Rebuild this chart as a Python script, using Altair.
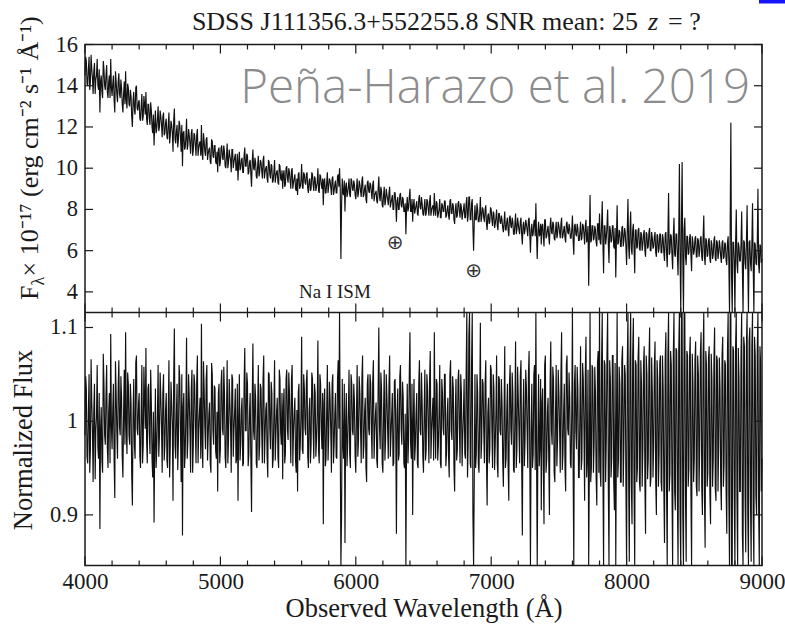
import altair as alt
import pandas as pd

# Spectrum on a 5 Angstrom grid: the main samples fall on 4000, 4010, ... 9000
# and the in-between samples on 4005, 4015, ... 8995
wave_start = 4000
wave_step = 10

# Observed flux density, units of 1e-17 erg cm^-2 s^-1 A^-1 (main samples)
flux = [
    14.5, 15.2, 14.0, 15.4, 14.2, 14.8, 13.6, 15.1, 14.3, 15.3,
    13.8, 12.7, 14.5, 13.4, 14.8, 13.8, 15.0, 13.4, 14.5, 15.3,
    13.5, 14.5, 12.7, 14.2, 13.2, 14.6, 13.4, 13.9, 12.7, 14.2,
    14.7, 12.9, 13.9, 13.0, 13.5, 12.0, 13.7, 12.6, 14.0, 12.8,
    13.3, 12.3, 13.6, 12.5, 13.1, 13.7, 12.1, 13.1, 12.1, 12.8,
    11.7, 11.1, 12.8, 11.9, 13.0, 12.0, 12.5, 11.5, 12.7, 11.7,
    12.4, 11.4, 12.7, 11.6, 12.1, 10.8, 12.9, 11.2, 12.1, 11.4,
    12.1, 10.8, 10.1, 11.8, 11.0, 12.4, 11.1, 11.6, 10.7, 11.9,
    10.9, 11.6, 10.6, 11.9, 11.0, 11.3, 12.1, 10.4, 11.3, 10.6,
    11.5, 10.7, 11.0, 10.2, 11.3, 10.5, 11.1, 10.2, 9.8, 11.0,
    10.3, 11.1, 10.4, 10.8, 10.0, 11.2, 10.3, 10.6, 9.8, 10.9,
    10.3, 10.7, 9.9, 9.4, 10.8, 10.0, 10.5, 9.8, 11.0, 10.1,
    10.6, 9.8, 10.4, 9.1, 10.9, 9.9, 10.3, 9.5, 10.6, 9.8,
    10.3, 9.5, 10.6, 9.8, 10.1, 9.3, 10.3, 9.5, 10.1, 9.4,
    10.4, 9.6, 9.9, 9.2, 10.1, 9.4, 9.0, 9.9, 9.2, 10.1,
    9.3, 9.8, 9.0, 10.0, 9.3, 9.7, 8.9, 8.7, 9.8, 9.1,
    10.2, 9.0, 9.7, 9.2, 9.8, 8.8, 9.5, 9.0, 9.7, 8.9,
    9.5, 9.1, 10.0, 8.8, 9.6, 9.0, 8.2, 9.5, 8.8, 9.8,
    9.1, 9.4, 8.7, 9.6, 8.9, 9.4, 8.8, 9.7, 10.0, 5.6,
    9.5, 8.7, 7.9, 9.3, 8.8, 9.5, 8.6, 9.4, 8.9, 9.2,
    8.5, 9.5, 8.8, 9.2, 8.6, 9.6, 8.7, 9.2, 8.3, 9.4,
    8.8, 9.2, 8.5, 9.4, 8.7, 8.9, 8.3, 9.6, 8.4, 8.9,
    8.1, 9.1, 8.4, 8.7, 8.2, 9.1, 8.3, 8.7, 8.0, 8.8,
    7.4, 8.6, 8.0, 8.8, 8.1, 8.5, 7.9, 6.8, 8.6, 8.1,
    9.0, 7.9, 7.4, 8.5, 8.0, 8.4, 7.7, 8.7, 8.0, 8.3,
    7.7, 8.5, 7.8, 8.4, 7.7, 8.7, 8.0, 8.2, 8.8, 7.7,
    8.3, 7.8, 8.5, 7.6, 8.2, 7.9, 8.4, 7.7, 8.2, 7.5,
    8.5, 7.8, 8.2, 7.3, 8.3, 7.7, 8.4, 7.6, 8.1, 7.8,
    8.3, 7.6, 8.6, 7.7, 8.6, 7.5, 8.5, 6.0, 8.2, 7.5,
    8.0, 7.4, 8.6, 7.6, 8.0, 7.4, 8.2, 7.0, 7.8, 7.4,
    8.0, 7.2, 7.8, 7.3, 8.0, 7.0, 7.8, 7.3, 7.5, 6.9,
    7.9, 7.0, 7.6, 6.7, 7.7, 7.1, 7.4, 6.8, 7.8, 7.0,
    7.3, 6.8, 7.6, 6.3, 7.4, 7.0, 7.3, 6.7, 7.6, 5.9,
    7.3, 6.8, 7.5, 8.3, 5.6, 7.4, 6.8, 6.3, 7.3, 6.2,
    7.5, 6.7, 7.2, 6.3, 7.6, 6.8, 7.3, 6.5, 7.4, 6.8,
    7.2, 6.6, 7.6, 6.7, 7.2, 6.4, 7.4, 6.8, 7.1, 6.6,
    7.7, 5.8, 7.3, 6.7, 7.1, 6.5, 7.4, 6.6, 7.2, 6.3,
    7.5, 6.6, 4.3, 8.7, 6.5, 7.2, 6.6, 7.0, 6.2, 7.3,
    7.8, 6.3, 8.4, 4.9, 7.2, 6.6, 8.0, 5.4, 7.0, 6.5,
    7.2, 6.1, 4.7, 8.2, 6.4, 6.9, 6.2, 7.2, 6.5, 6.9,
    5.3, 8.5, 5.6, 7.9, 5.8, 7.3, 4.9, 7.0, 6.2, 7.1,
    6.0, 6.8, 6.3, 7.0, 5.7, 6.8, 6.2, 7.1, 6.0, 6.6,
    6.2, 6.9, 5.7, 6.7, 6.1, 6.8, 5.9, 6.6, 5.5, 6.9,
    5.2, 8.8, 5.9, 6.7, 5.1, 7.6, 5.7, 6.8, 4.8, 10.2,
    2.5, 10.3, 2.5, 7.6, 5.3, 6.7, 5.9, 6.8, 5.0, 6.4,
    6.0, 6.7, 5.7, 6.5, 6.0, 6.7, 5.5, 7.7, 5.3, 6.5,
    5.8, 6.6, 5.4, 6.3, 5.8, 6.7, 5.5, 6.4, 5.9, 6.2,
    5.4, 6.5, 5.7, 6.3, 5.3, 6.7, 2.5, 12.2, 2.5, 6.4,
    2.8, 8.0, 4.9, 6.2, 5.5, 7.9, 2.5, 6.4, 5.1, 8.2,
    2.5, 6.5, 5.0, 8.3, 2.6, 6.3, 5.3, 9.0, 4.9, 6.2,
    5.6,
]

# Observed flux density at the in-between samples
flux_mid = [
    15.4, 14.1, 14.8, 13.8, 15.5, 14.4, 14.7, 13.6, 14.5, 14.0,
    14.8, 14.2, 13.7, 15.2, 14.0, 14.5, 13.7, 14.2, 13.4, 13.9,
    14.1, 13.3, 14.7, 13.6, 14.2, 13.6, 14.3, 13.1, 13.6, 13.1,
    13.3, 14.1, 13.1, 13.8, 12.5, 13.3, 12.8, 13.9, 12.9, 13.2,
    12.4, 13.0, 12.3, 13.5, 12.6, 12.4, 13.1, 12.4, 13.2, 12.0,
    12.6, 12.1, 11.7, 12.4, 11.8, 12.8, 12.1, 12.5, 11.6, 12.2,
    11.5, 12.1, 11.2, 12.3, 11.7, 12.3, 11.4, 11.8, 11.0, 12.3,
    11.5, 12.1, 11.7, 10.9, 11.5, 10.9, 11.9, 11.2, 11.7, 10.6,
    11.7, 11.1, 11.6, 10.6, 11.2, 10.6, 10.7, 11.7, 10.8, 11.4,
    10.4, 10.9, 10.3, 11.4, 10.6, 11.1, 10.3, 10.8, 10.9, 10.1,
    11.0, 10.5, 11.1, 10.1, 10.6, 10.0, 10.9, 10.4, 10.9, 10.0,
    10.5, 9.9, 10.7, 10.3, 9.9, 10.4, 9.8, 10.6, 10.1, 10.7,
    9.7, 10.3, 9.7, 10.3, 10.0, 10.5, 9.6, 10.1, 9.6, 10.4,
    9.9, 10.4, 9.5, 10.0, 9.5, 10.4, 9.7, 10.2, 9.3, 9.8,
    9.3, 9.8, 9.3, 10.2, 9.5, 9.9, 9.7, 9.1, 10.0, 9.5,
    10.0, 9.4, 9.9, 9.0, 9.5, 9.0, 9.5, 9.7, 9.0, 9.4,
    9.1, 9.8, 9.3, 9.7, 9.0, 9.4, 8.9, 9.8, 9.2, 9.6,
    8.9, 9.3, 8.9, 9.7, 9.2, 9.5, 9.4, 8.8, 9.3, 8.8,
    9.5, 9.1, 9.5, 8.7, 9.2, 8.8, 9.6, 9.1, 9.0, 8.2,
    8.8, 9.4, 9.1, 8.6, 9.1, 8.7, 9.5, 9.0, 9.4, 8.7,
    9.0, 8.6, 9.4, 8.9, 9.4, 8.6, 9.0, 8.5, 9.3, 8.9,
    9.3, 8.8, 9.2, 8.4, 8.8, 8.4, 9.0, 8.6, 9.1, 8.2,
    8.7, 8.2, 9.0, 8.5, 8.8, 8.1, 8.5, 8.0, 8.8, 8.3,
    8.4, 8.0, 8.7, 8.2, 8.6, 7.9, 8.3, 8.1, 7.9, 8.6,
    7.9, 8.5, 8.2, 7.8, 8.2, 7.8, 8.5, 8.1, 8.6, 7.8,
    8.1, 7.7, 8.5, 8.0, 8.4, 7.7, 8.1, 7.7, 8.0, 8.4,
    7.6, 8.0, 7.6, 8.3, 7.9, 8.4, 7.6, 8.0, 7.7, 8.4,
    7.8, 8.3, 7.5, 8.0, 7.6, 8.3, 7.9, 8.3, 7.5, 8.0,
    7.6, 8.3, 7.4, 8.6, 7.5, 8.3, 7.1, 7.4, 7.5, 8.3,
    7.4, 7.8, 7.4, 8.1, 7.6, 8.0, 7.3, 7.7, 7.3, 8.1,
    7.5, 7.9, 7.1, 7.6, 7.2, 7.8, 7.4, 7.7, 7.1, 7.4,
    7.0, 7.4, 7.0, 7.6, 7.2, 7.6, 6.8, 7.3, 6.8, 7.6,
    7.0, 7.4, 6.8, 7.2, 6.8, 7.5, 7.0, 7.5, 6.8, 7.0,
    6.7, 7.4, 6.7, 6.7, 6.9, 6.7, 7.3, 7.2, 6.7, 7.5,
    6.6, 7.0, 6.7, 7.2, 6.9, 7.4, 6.6, 7.0, 6.6, 7.4,
    6.9, 7.3, 6.6, 7.0, 6.6, 7.3, 6.9, 7.3, 6.6, 7.0,
    6.5, 7.2, 6.8, 7.3, 6.5, 6.9, 6.5, 7.3, 6.8, 7.2,
    6.4, 7.2, 6.5, 6.4, 7.2, 6.5, 7.2, 6.4, 7.3, 6.5,
    6.4, 7.2, 6.4, 7.2, 6.3, 7.2, 6.3, 7.2, 6.4, 7.2,
    6.2, 7.1, 6.6, 6.3, 7.0, 6.2, 7.1, 6.2, 7.1, 6.2,
    7.0, 6.2, 7.0, 6.1, 7.0, 6.1, 7.0, 6.1, 7.0, 6.1,
    6.9, 6.0, 6.8, 6.0, 6.9, 6.1, 6.9, 6.0, 6.9, 6.1,
    6.7, 5.9, 6.8, 5.9, 6.8, 5.9, 6.8, 5.9, 6.8, 5.9,
    6.7, 5.8, 6.8, 5.8, 6.7, 5.8, 6.8, 5.8, 6.8, 5.7,
    7.2, 5.6, 7.0, 5.7, 6.7, 5.8, 6.6, 5.8, 6.7, 5.8,
    6.6, 5.7, 6.6, 5.7, 6.6, 5.7, 6.6, 5.7, 6.6, 5.7,
    6.5, 5.6, 6.5, 5.6, 6.5, 5.6, 6.5, 5.6, 6.5, 5.7,
    6.4, 5.6, 6.4, 5.5, 6.4, 5.5, 7.2, 4.8, 6.4, 5.5,
    6.4, 5.4, 6.4, 5.5, 6.3, 5.2, 6.5, 5.4, 6.4, 5.3,
    6.4, 5.4, 6.3, 5.3, 6.4, 5.4, 6.3, 5.3, 6.3, 5.4,
]

# Flux divided by the fitted continuum (main samples)
norm_flux = [
    0.985, 1.035, 0.955, 1.050, 0.970, 1.020, 0.935, 1.040, 0.990, 1.060,
    0.960, 0.885, 1.015, 0.945, 1.040, 0.975, 1.060, 0.950, 1.030, 1.093,
    0.970, 1.040, 0.918, 1.030, 0.960, 1.065, 0.985, 1.025, 0.940, 1.055,
    1.095, 0.965, 1.040, 0.975, 1.020, 0.910, 1.045, 0.960, 1.070, 0.985,
    1.030, 0.950, 1.060, 0.975, 1.025, 1.078, 0.955, 1.040, 0.965, 1.020,
    0.940, 0.892, 1.035, 0.970, 1.060, 0.985, 1.025, 0.945, 1.050, 0.975,
    1.030, 0.950, 1.065, 0.975, 1.020, 0.915, 1.099, 0.960, 1.040, 0.980,
    1.045, 0.935, 0.878, 1.030, 0.965, 1.089, 0.980, 1.025, 0.945, 1.055,
    0.975, 1.040, 0.955, 1.070, 0.990, 1.025, 1.104, 0.950, 1.035, 0.970,
    1.060, 0.985, 1.020, 0.945, 1.050, 0.975, 1.035, 0.960, 0.925, 1.040,
    0.970, 1.055, 0.985, 1.030, 0.950, 1.065, 0.980, 1.020, 0.945, 1.045,
    0.990, 1.035, 0.960, 0.915, 1.050, 0.975, 1.025, 0.955, 1.078, 0.990,
    1.040, 0.965, 1.030, 0.903, 1.083, 0.980, 1.025, 0.950, 1.060, 0.975,
    1.035, 0.955, 1.070, 0.985, 1.020, 0.940, 1.050, 0.970, 1.030, 0.960,
    1.065, 0.985, 1.025, 0.950, 1.045, 0.975, 0.938, 1.035, 0.965, 1.055,
    0.980, 1.030, 0.955, 1.060, 0.990, 1.025, 0.945, 0.925, 1.040, 0.975,
    1.090, 0.965, 1.035, 0.985, 1.055, 0.950, 1.025, 0.975, 1.045, 0.960,
    1.030, 0.980, 1.086, 0.955, 1.040, 0.970, 0.890, 1.035, 0.960, 1.060,
    0.985, 1.025, 0.945, 1.050, 0.975, 1.030, 0.960, 1.065, 1.125, 0.620,
    1.045, 0.960, 0.870, 1.030, 0.975, 1.055, 0.950, 1.040, 0.985, 1.020,
    0.945, 1.060, 0.980, 1.030, 0.955, 1.070, 0.975, 1.025, 0.935, 1.050,
    0.985, 1.040, 0.960, 1.065, 0.990, 1.020, 0.950, 1.100, 0.970, 1.035,
    0.945, 1.055, 0.980, 1.025, 0.960, 1.070, 0.985, 1.030, 0.955, 1.045,
    0.880, 1.035, 0.965, 1.060, 0.975, 1.025, 0.950, 0.820, 1.040, 0.980,
    1.095, 0.960, 0.900, 1.045, 0.975, 1.030, 0.950, 1.065, 0.985, 1.020,
    0.945, 1.055, 0.970, 1.035, 0.955, 1.075, 0.990, 1.025, 1.095, 0.960,
    1.040, 0.975, 1.060, 0.950, 1.030, 0.985, 1.050, 0.965, 1.025, 0.940,
    1.065, 0.980, 1.035, 0.925, 1.045, 0.970, 1.055, 0.955, 1.030, 0.985,
    1.045, 0.960, 1.118, 0.975, 1.125, 0.950, 1.122, 0.740, 1.050, 0.965,
    1.030, 0.945, 1.105, 0.980, 1.040, 0.955, 1.065, 0.910, 1.025, 0.970,
    1.055, 0.950, 1.035, 0.975, 1.070, 0.940, 1.045, 0.985, 1.020, 0.930,
    1.080, 0.960, 1.040, 0.915, 1.060, 0.975, 1.030, 0.945, 1.085, 0.970,
    1.025, 0.955, 1.065, 0.878, 1.045, 0.980, 1.035, 0.950, 1.075, 0.830,
    1.040, 0.965, 1.060, 1.125, 0.790, 1.050, 0.975, 0.905, 1.035, 0.890,
    1.070, 0.960, 1.025, 0.900, 1.085, 0.975, 1.045, 0.935, 1.060, 0.980,
    1.030, 0.945, 1.095, 0.965, 1.040, 0.925, 1.070, 0.985, 1.025, 0.950,
    1.120, 0.835, 1.060, 0.970, 1.035, 0.940, 1.080, 0.960, 1.045, 0.915,
    1.090, 0.960, 0.630, 1.270, 0.950, 1.055, 0.975, 1.030, 0.910, 1.075,
    1.150, 0.930, 1.240, 0.720, 1.060, 0.980, 1.180, 0.800, 1.045, 0.960,
    1.070, 0.905, 0.700, 1.230, 0.960, 1.040, 0.935, 1.080, 0.975, 1.050,
    0.800, 1.290, 0.850, 1.200, 0.890, 1.110, 0.740, 1.060, 0.950, 1.090,
    0.925, 1.040, 0.970, 1.080, 0.880, 1.050, 0.960, 1.100, 0.940, 1.030,
    0.975, 1.085, 0.900, 1.045, 0.965, 1.070, 0.925, 1.035, 0.870, 1.095,
    0.830, 1.400, 0.945, 1.060, 0.810, 1.210, 0.905, 1.075, 0.770, 1.630,
    0.400, 1.650, 0.400, 1.220, 0.850, 1.070, 0.950, 1.090, 0.805, 1.040,
    0.960, 1.085, 0.920, 1.050, 0.975, 1.095, 0.900, 1.250, 0.865, 1.060,
    0.945, 1.080, 0.890, 1.045, 0.960, 1.100, 0.915, 1.065, 0.975, 1.035,
    0.905, 1.090, 0.955, 1.060, 0.880, 1.120, 0.420, 2.050, 0.420, 1.075,
    0.470, 1.350, 0.830, 1.045, 0.925, 1.330, 0.420, 1.080, 0.860, 1.390,
    0.420, 1.100, 0.850, 1.410, 0.440, 1.070, 0.900, 1.540, 0.835, 1.060,
    0.960,
]

# Normalized flux at the in-between samples
norm_mid = [
    1.048, 0.962, 1.008, 0.945, 1.066, 0.990, 1.012, 0.938, 1.005, 0.972,
    1.030, 0.992, 0.958, 1.072, 0.985, 1.028, 0.972, 1.010, 0.955, 0.995,
    1.012, 0.958, 1.064, 0.990, 1.035, 0.994, 1.048, 0.962, 1.008, 0.975,
    0.992, 1.052, 0.985, 1.040, 0.942, 1.006, 0.975, 1.062, 0.992, 1.018,
    0.962, 1.010, 0.955, 1.058, 0.992, 0.980, 1.035, 0.988, 1.055, 0.960,
    1.010, 0.975, 0.950, 1.008, 0.962, 1.052, 0.995, 1.030, 0.958, 1.012,
    0.958, 1.010, 0.940, 1.042, 0.995, 1.045, 0.975, 1.008, 0.948, 1.060,
    0.992, 1.050, 1.015, 0.950, 1.008, 0.960, 1.050, 0.990, 1.035, 0.945,
    1.050, 0.992, 1.042, 0.955, 1.010, 0.960, 0.975, 1.064, 0.994, 1.045,
    0.958, 1.008, 0.955, 1.062, 0.990, 1.038, 0.968, 1.010, 1.030, 0.955,
    1.040, 0.992, 1.058, 0.962, 1.006, 0.955, 1.045, 0.995, 1.050, 0.962,
    1.010, 0.955, 1.040, 1.000, 0.958, 1.012, 0.952, 1.040, 0.990, 1.052,
    0.952, 1.010, 0.958, 1.020, 0.990, 1.040, 0.955, 1.008, 0.958, 1.040,
    0.990, 1.045, 0.955, 1.012, 0.962, 1.052, 0.992, 1.042, 0.950, 1.008,
    0.958, 1.010, 0.962, 1.055, 0.988, 1.030, 1.015, 0.955, 1.045, 0.992,
    1.052, 0.992, 1.045, 0.952, 1.010, 0.958, 1.012, 1.030, 0.958, 1.006,
    0.970, 1.050, 0.992, 1.042, 0.962, 1.010, 0.955, 1.052, 0.990, 1.040,
    0.962, 1.008, 0.968, 1.050, 0.992, 1.030, 1.018, 0.952, 1.010, 0.958,
    1.042, 0.990, 1.040, 0.955, 1.008, 0.962, 1.045, 0.992, 0.980, 0.900,
    0.975, 1.040, 1.000, 0.952, 1.010, 0.965, 1.050, 0.990, 1.040, 0.962,
    1.008, 0.962, 1.048, 0.992, 1.045, 0.960, 1.010, 0.950, 1.040, 0.992,
    1.050, 0.990, 1.042, 0.960, 1.008, 0.958, 1.035, 0.994, 1.052, 0.955,
    1.010, 0.958, 1.050, 0.992, 1.038, 0.962, 1.006, 0.952, 1.042, 0.990,
    1.010, 0.958, 1.048, 0.992, 1.042, 0.955, 1.008, 0.985, 0.955, 1.050,
    0.975, 1.040, 1.000, 0.958, 1.008, 0.955, 1.040, 0.990, 1.052, 0.962,
    1.010, 0.958, 1.050, 0.992, 1.045, 0.960, 1.008, 0.958, 0.995, 1.045,
    0.958, 1.010, 0.955, 1.045, 0.992, 1.050, 0.952, 1.008, 0.962, 1.050,
    0.990, 1.048, 0.950, 1.010, 0.958, 1.045, 0.992, 1.050, 0.952, 1.008,
    0.965, 1.050, 0.940, 1.090, 0.955, 1.060, 0.900, 0.940, 0.950, 1.050,
    0.955, 1.010, 0.960, 1.045, 0.990, 1.040, 0.958, 1.008, 0.955, 1.060,
    0.992, 1.050, 0.948, 1.010, 0.955, 1.048, 0.990, 1.045, 0.958, 1.008,
    0.950, 1.010, 0.952, 1.040, 0.992, 1.052, 0.948, 1.008, 0.950, 1.058,
    0.990, 1.048, 0.955, 1.008, 0.952, 1.055, 0.992, 1.050, 0.960, 0.990,
    0.950, 1.050, 0.948, 0.960, 0.980, 0.952, 1.045, 1.020, 0.950, 1.060,
    0.945, 1.010, 0.960, 1.040, 0.990, 1.058, 0.945, 1.008, 0.952, 1.055,
    0.992, 1.050, 0.948, 1.010, 0.950, 1.060, 0.992, 1.052, 0.955, 1.008,
    0.950, 1.040, 0.990, 1.058, 0.940, 1.010, 0.948, 1.062, 0.992, 1.050,
    0.940, 1.055, 0.950, 0.935, 1.060, 0.945, 1.058, 0.940, 1.062, 0.945,
    0.945, 1.060, 0.950, 1.065, 0.935, 1.070, 0.930, 1.065, 0.940, 1.070,
    0.935, 1.062, 0.990, 0.940, 1.058, 0.935, 1.065, 0.930, 1.060, 0.930,
    1.060, 0.940, 1.062, 0.935, 1.070, 0.928, 1.065, 0.935, 1.068, 0.935,
    1.065, 0.930, 1.060, 0.935, 1.070, 0.938, 1.062, 0.930, 1.068, 0.940,
    1.058, 0.935, 1.065, 0.930, 1.062, 0.935, 1.070, 0.928, 1.065, 0.930,
    1.070, 0.925, 1.075, 0.930, 1.070, 0.925, 1.078, 0.920, 1.075, 0.900,
    1.150, 0.900, 1.120, 0.920, 1.075, 0.930, 1.068, 0.925, 1.072, 0.935,
    1.065, 0.930, 1.070, 0.925, 1.072, 0.930, 1.068, 0.920, 1.075, 0.930,
    1.068, 0.925, 1.072, 0.930, 1.065, 0.928, 1.070, 0.925, 1.068, 0.935,
    1.070, 0.930, 1.065, 0.925, 1.075, 0.920, 1.200, 0.800, 1.080, 0.920,
    1.080, 0.920, 1.078, 0.925, 1.070, 0.880, 1.090, 0.920, 1.080, 0.900,
    1.085, 0.915, 1.080, 0.900, 1.090, 0.920, 1.075, 0.910, 1.080, 0.925,
]

main_wave = [wave_start + wave_step * i for i in range(len(flux))]
mid_wave = [wave_start + wave_step // 2 + wave_step * i for i in range(len(flux_mid))]

# Axis ticks and labels
x_major = [4000, 5000, 6000, 7000, 8000, 9000]
x_minor = [w for w in range(4200, 9000, 200) if w % 1000 != 0]
flux_ticks = [4, 6, 8, 10, 12, 14, 16]
flux_labels = ["4", "6", "8", "10", "12", "14", "16"]
norm_ticks = [0.9, 1.0, 1.1]
norm_labels = ["0.9", "1", "1.1"]

# Telluric absorption markers and interstellar Na I label
telluric_wave = [6290, 6870]
telluric_flux = [6.37, 5.02]
nai_wave = [5846]
nai_flux = [4.0]

# Panel geometry (pixels)
W = 677
H_TOP = 268
H = 521
SERIF = "Liberation Serif, Times New Roman, serif"
INK = "#1a1a1a"
LINE = "#111111"

spec = pd.concat([
    pd.DataFrame({"wavelength": main_wave, "flux": flux, "norm": norm_flux}),
    pd.DataFrame({"wavelength": mid_wave, "flux": flux_mid, "norm": norm_mid}),
]).sort_values("wavelength").reset_index(drop=True)

major_df = pd.DataFrame({"wavelength": x_major})
minor_df = pd.DataFrame({"wavelength": x_minor})
fticks_df = pd.DataFrame({"value": flux_ticks, "label": flux_labels})
nticks_df = pd.DataFrame({"value": norm_ticks, "label": norm_labels})
tell_df = pd.DataFrame({"wavelength": telluric_wave, "flux": telluric_flux, "t": ["\u2295"] * 2})
nai_df = pd.DataFrame({"wavelength": nai_wave, "flux": nai_flux, "t": ["Na I ISM"]})

x_scale = alt.Scale(domain=[4000, 9000], nice=False, zero=False)
top_y = alt.Scale(domain=[3, 16], range=[H_TOP, 0], clamp=True, nice=False, zero=False)
bot_y = alt.Scale(domain=[0.846, 1.116], range=[H, H_TOP], clamp=True, nice=False, zero=False)

x_axis = alt.Axis(
    values=x_major, format="d", ticks=False, domain=False, grid=False,
    labelFont=SERIF, labelFontSize=23, labelColor=INK, labelPadding=5,
    labelFlush=False, labelOverlap=False,
    title="Observed Wavelength (\u00c5)", titleFont=SERIF, titleFontSize=26.5,
    titleFontWeight="normal", titleColor=INK, titlePadding=2,
)


def X():
    return alt.X("wavelength:Q", scale=x_scale, axis=x_axis)


def one(text=""):
    return pd.DataFrame({"t": [text]})


# Spectra
top_line = alt.Chart(spec).mark_line(color=LINE, strokeWidth=1.15).encode(
    x=X(), y=alt.Y("flux:Q", scale=top_y, axis=None)
)
bot_line = alt.Chart(spec).mark_line(color=LINE, strokeWidth=1.15).encode(
    x=X(), y=alt.Y("norm:Q", scale=bot_y, axis=None)
)

# Divider between the two panels
divider = alt.Chart(pd.DataFrame({"value": [3]})).mark_rule(color=INK, strokeWidth=1.5).encode(
    y=alt.Y("value:Q", scale=top_y, axis=None)
)


def xticks(df, y0, y1):
    return alt.Chart(df).mark_rule(color=INK, strokeWidth=1.2).encode(
        x=X(), y=alt.value(y0), y2=alt.value(y1)
    )


def yticks(df, scale, x0, x1):
    return alt.Chart(df).mark_rule(color=INK, strokeWidth=1.2).encode(
        y=alt.Y("value:Q", scale=scale, axis=None), x=alt.value(x0), x2=alt.value(x1)
    )


tick_layers = [
    xticks(major_df, 0, 9), xticks(major_df, H_TOP - 9, H_TOP + 9), xticks(major_df, H - 9, H),
    xticks(minor_df, 0, 5), xticks(minor_df, H_TOP - 5, H_TOP + 5), xticks(minor_df, H - 5, H),
    yticks(fticks_df, top_y, 0, 8), yticks(fticks_df, top_y, W - 8, W),
    yticks(nticks_df, bot_y, 0, 8), yticks(nticks_df, bot_y, W - 8, W),
]

flux_lab = alt.Chart(fticks_df).mark_text(
    align="right", baseline="middle", font=SERIF, fontSize=22.5, color=INK
).encode(y=alt.Y("value:Q", scale=top_y, axis=None), x=alt.value(-7), text="label:N")
norm_lab = alt.Chart(nticks_df).mark_text(
    align="right", baseline="middle", font=SERIF, fontSize=22.5, color=INK
).encode(y=alt.Y("value:Q", scale=bot_y, axis=None), x=alt.value(-7), text="label:N")


def label(text, x, y, **kw):
    style = dict(font=SERIF, fontSize=26, color=INK, baseline="alphabetic")
    style.update(kw)
    return alt.Chart(one(text)).mark_text(**style).encode(
        text="t:N", x=alt.value(x), y=alt.value(y)
    )


# Vertical axis titles
ytitle_top = [
    label("F", -47, 255.5, angle=270, align="left", fontSize=26),
    label("\u03bb", -41, 241, angle=270, align="left", fontSize=18),
    label(" \u00d7 10\u207b\u00b9\u2077 (erg cm\u207b\u00b2 s\u207b\u00b9 \u00c5\u207b\u00b9)",
          -47, 232, angle=270, align="left", fontSize=26),
]
ytitle_bot = label("Normalized Flux", -53, 395.5, angle=270, align="center", fontSize=26.5)

# Title line
title_parts = [
    label("SDSS J111356.3+552255.8 SNR mean: 25", 553, -14.5, align="right", fontSize=26),
    label("z", 568, -14.5, align="center", fontStyle="italic", fontSize=26),
    label("=  ?", 583, -14.5, align="left", fontSize=26),
]

# Credit text and corner mark
credit = label("Pe\u00f1a-Harazo et al. 2019", 665, 58.5, align="right",
               font="Open Sans", fontSize=47.5, fontWeight=300, color="#8c8c8c")
corner = alt.Chart(one()).mark_rect(color="#1414ff").encode(
    x=alt.value(674), x2=alt.value(700), y=alt.value(-44.5), y2=alt.value(-41)
)

# Annotations inside the flux panel
tell = alt.Chart(tell_df).mark_text(
    font="DejaVu Sans", fontSize=20, color="#333333", baseline="middle", align="center"
).encode(x=X(), y=alt.Y("flux:Q", scale=top_y, axis=None), text="t:N")
nai = alt.Chart(nai_df).mark_text(
    font=SERIF, fontSize=19, color=INK, baseline="middle", align="center"
).encode(x=X(), y=alt.Y("flux:Q", scale=top_y, axis=None), text="t:N")

chart = alt.layer(
    top_line, bot_line, divider, *tick_layers, flux_lab, norm_lab,
    *ytitle_top, ytitle_bot, *title_parts, credit, corner, tell, nai,
).resolve_scale(
    y="independent"
).properties(
    width=W, height=H,
    padding={"left": 85, "top": 44.5, "right": 23, "bottom": 66.5},
    autosize=alt.AutoSizeParams(type="none"),
).configure_view(
    stroke=INK, strokeWidth=1.5
)

chart.save("out.html", embed_options={"renderer": "svg", "actions": False})
